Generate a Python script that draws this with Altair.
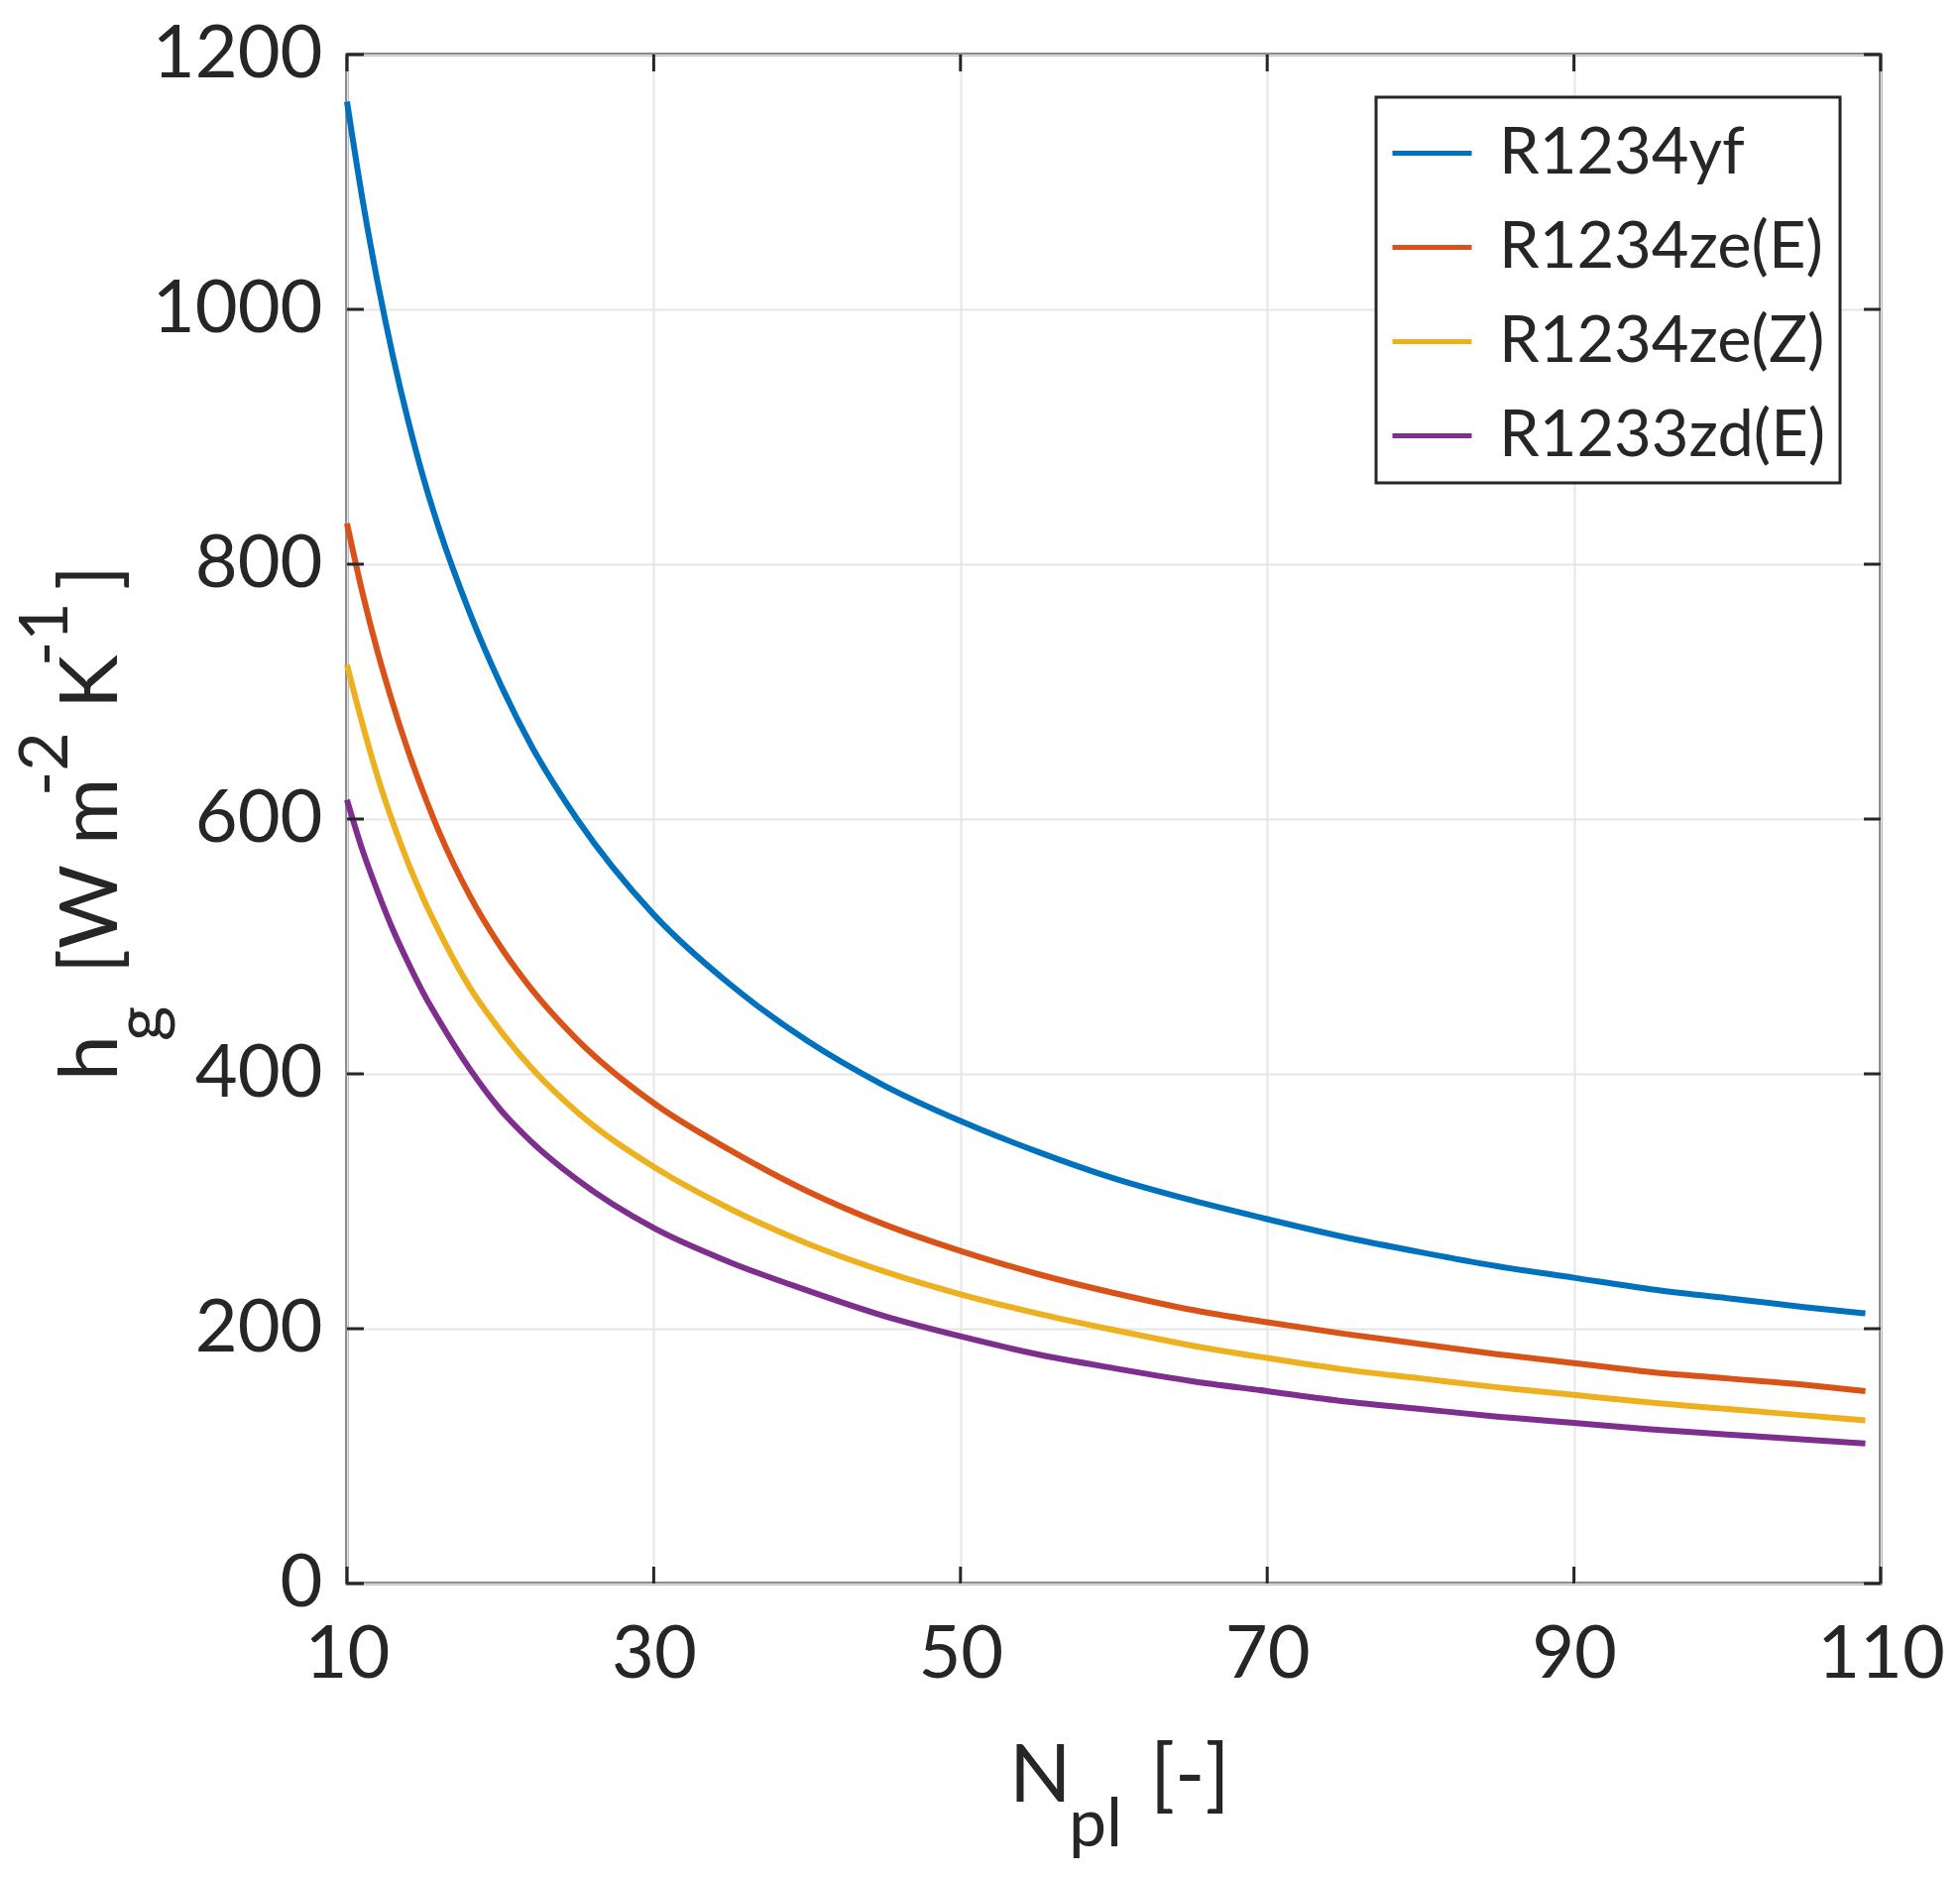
import altair as alt
import pandas as pd

# Number of plates N_pl and the gas-side heat transfer coefficient h_g for each refrigerant
n_pl = [10, 11, 12, 13, 14, 15, 16, 18, 20, 22, 25, 30, 35, 40, 45, 50,
        55, 60, 65, 70, 75, 80, 85, 90, 95, 100, 105, 109]

h_r1234yf = [1163, 1087, 1021, 963, 912, 867, 828, 762, 706, 658, 600, 525,
             470, 426, 391, 363, 339, 318, 301, 286, 272, 260, 249, 240,
             231, 224, 217, 212]
h_r1234ze_e = [832, 778, 731, 690, 653, 620, 590, 540, 500, 467, 427, 377,
               340, 308, 282, 261, 243, 228, 215, 205, 196, 188, 180, 173,
               166, 161, 156, 151]
h_r1234ze_z = [721, 675, 633, 597, 565, 537, 512, 468, 434, 405, 370, 327,
               294, 267, 245, 227, 212, 199, 187, 177, 168, 161, 154, 148,
               142, 137, 132, 128]
h_r1233zd_e = [615, 576, 543, 513, 487, 463, 442, 404, 372, 347, 317, 279,
               252, 230, 210, 194, 180, 169, 159, 151, 143, 137, 131, 126,
               121, 117, 113, 110]

fluids = ["R1234yf", "R1234ze(E)", "R1234ze(Z)", "R1233zd(E)"]
colors = ["#0072BD", "#D95319", "#EDB120", "#7E2F8E"]

x_ticks = [10, 30, 50, 70, 90, 110]
y_ticks = [0, 200, 400, 600, 800, 1000, 1200]

series = [h_r1234yf, h_r1234ze_e, h_r1234ze_z, h_r1233zd_e]
rows = []
for name, values in zip(fluids, series):
    for n, h in zip(n_pl, values):
        rows.append({"N": n, "h": h, "fluid": name})
df = pd.DataFrame(rows)

W, H = 1547, 1542
FONT = "Lato"
INK = "#262626"
TICK = 17

x_scale = alt.Scale(domain=[10, 110], nice=False, zero=False)
y_scale = alt.Scale(domain=[0, 1200], nice=False)

x_axis = alt.Axis(values=x_ticks, title=None, ticks=False, domain=False,
                  format="d", labelLimit=0,
                  labelFont=FONT, labelFontSize=74, labelColor=INK,
                  labelPadding=36, labelFlush=False, labelOverlap=False,
                  grid=True, gridColor="#e6e6e6", gridWidth=2)
y_axis = alt.Axis(values=y_ticks, title=None, ticks=False, domain=False,
                  format="d", labelLimit=0,
                  labelFont=FONT, labelFontSize=74, labelColor=INK,
                  labelPadding=25, labelOverlap=False,
                  grid=True, gridColor="#e6e6e6", gridWidth=2)

legend = alt.Legend(orient="none", legendX=1038, legendY=43, title=None,
                    symbolType="stroke", symbolSize=6400, symbolStrokeWidth=5,
                    labelFont=FONT, labelFontSize=65, labelColor=INK,
                    labelOffset=25, rowPadding=19, padding=14,
                    strokeColor=INK, fillColor="white", labelLimit=0)

lines = alt.Chart(df).mark_line(strokeWidth=6, interpolate="monotone").encode(
    x=alt.X("N:Q", scale=x_scale, axis=x_axis),
    y=alt.Y("h:Q", scale=y_scale, axis=y_axis),
    color=alt.Color("fluid:N", scale=alt.Scale(domain=fluids, range=colors),
                    sort=fluids, legend=legend),
)

# Inward tick marks on all four sides of the box
xt = pd.DataFrame({"xv": x_ticks})
yt = pd.DataFrame({"yv": y_ticks})
tick_bottom = alt.Chart(xt).mark_rule(color=INK, strokeWidth=3).encode(
    x="xv:Q", y=alt.value(H), y2=alt.value(H - TICK))
tick_top = alt.Chart(xt).mark_rule(color=INK, strokeWidth=3).encode(
    x="xv:Q", y=alt.value(0), y2=alt.value(TICK))
tick_left = alt.Chart(yt).mark_rule(color=INK, strokeWidth=3).encode(
    y="yv:Q", x=alt.value(0), x2=alt.value(TICK))
tick_right = alt.Chart(yt).mark_rule(color=INK, strokeWidth=3).encode(
    y="yv:Q", x=alt.value(W), x2=alt.value(W - TICK))

one = pd.DataFrame({"_": [0]})


def piece(text, x, y, size, angle=0):
    return alt.Chart(one).mark_text(
        text=text, font=FONT, fontSize=size, color=INK, angle=angle,
        align="left", baseline="alphabetic",
    ).encode(x=alt.value(x), y=alt.value(y))


# Axis titles with sub- and superscripts: N_pl [-] and h_g [W m^-2 K^-1]
x_title = [
    piece("N", 668, 1762, 82),
    piece("pl", 728, 1807, 68),
    piece("[-]", 810, 1762, 82),
]
y_title = [
    piece("h", -232, 1035, 82, 270),
    piece("g", -186, 995, 68, 270),
    piece("[W m", -232, 927, 82, 270),
    piece("-2", -282, 748, 68, 270),
    piece("K", -232, 660, 82, 270),
    piece("-1", -282, 617, 68, 270),
    piece("]", -232, 540, 82, 270),
]

chart = alt.layer(
    lines, tick_bottom, tick_top, tick_left, tick_right, *x_title, *y_title
).properties(
    width=W, height=H,
    autosize=alt.AutoSizeParams(type="none"),
    padding={"left": 350, "top": 55, "right": 80, "bottom": 299},
    background="white",
).configure_view(
    stroke=INK, strokeWidth=3
).configure_legend(
    strokeWidth=3
)

chart.save("out.html", embed_options={"renderer": "svg", "actions": False})
